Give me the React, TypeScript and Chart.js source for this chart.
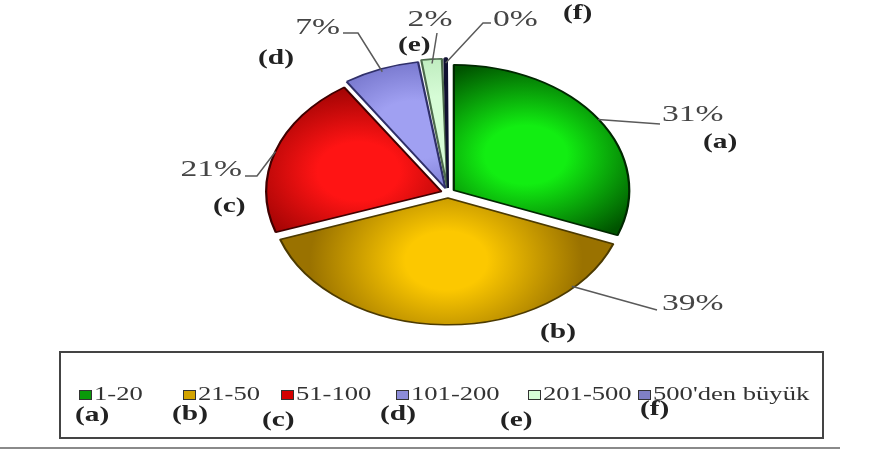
import React, { useEffect, useRef } from 'react';
import { Chart, registerables } from 'chart.js';

Chart.register(...registerables);

// ---- data ----
const categories = ['1-20', '21-50', '51-100', '101-200', '201-500', "500'den büyük"];
const letters = ['(a)', '(b)', '(c)', '(d)', '(e)', '(f)'];
const values = [31, 39, 21, 7, 2, 0.4];

// ---- styles ----
const lightColors = ['#12ee12', '#fcc800', '#ff1414', '#a0a0f2', '#d6fcd6', '#8c8cd6'];
const darkColors = ['#005400', '#9a7200', '#8a0000', '#5c5cb4', '#aee0ae', '#2c2c6a'];
const borderColors = ['#002800', '#4c3a00', '#400000', '#30306a', '#4c6a4c', '#101030'];
const legendColors = ['#0a9a0a', '#d4a400', '#d40000', '#8c8cd8', '#d8fcd8', '#8080c4'];

// ---- layout ----
const SX = 1.4;
const PIE_RADIUS = 125;
const OFFSET = 20;
const anchorFrac = [0.5, 0.17, 0.5, 0.5, 0.5, 0.5];
const pctPos = [
  { x: 662, y: 115, align: 'left' },
  { x: 662, y: 304, align: 'left' },
  { x: 242, y: 170, align: 'right' },
  { x: 340, y: 28, align: 'right' },
  { x: 430, y: 20, align: 'center' },
  { x: 493, y: 20, align: 'left' },
];
const leaderPaths = [
  [[660, 124]],
  [[657, 310]],
  [[257, 176], [245, 176]],
  [[358, 33], [343, 33]],
  [[437, 33]],
  [[483, 23], [491, 23]],
];
const letterPos = [
  { x: 703, y: 143 },
  { x: 540, y: 333 },
  { x: 213, y: 207 },
  { x: 258, y: 59 },
  { x: 398, y: 46 },
  { x: 563, y: 14 },
];
const legendSquareX = [79, 183, 281, 396, 528, 638];
const legendLetterPos = [
  { x: 75, y: 416 },
  { x: 172, y: 415 },
  { x: 262, y: 421 },
  { x: 380, y: 415 },
  { x: 500, y: 421 },
  { x: 640, y: 410 },
];

const SERIF = '"Liberation Serif", "Times New Roman", serif';

function stretchedText(
  ctx: CanvasRenderingContext2D,
  text: string,
  x: number,
  y: number,
  align: CanvasTextAlign,
  font: string,
  color: string
) {
  ctx.save();
  ctx.translate(x, y);
  ctx.scale(SX, 1);
  ctx.font = font;
  ctx.fillStyle = color;
  ctx.textAlign = align;
  ctx.textBaseline = 'middle';
  ctx.fillText(text, 0, 0);
  ctx.restore();
}

const total = values.reduce((a, b) => a + b, 0);

function sliceGradient(c: any) {
  const chart = c.chart;
  const i = c.dataIndex;
  const ca = chart.chartArea;
  if (!ca || i === undefined) return lightColors[i ?? 0];
  const cx = (ca.left + ca.right) / 2;
  const cy = (ca.top + ca.bottom) / 2;
  let cum = 0;
  for (let k = 0; k < i; k++) cum += values[k];
  const start = -Math.PI / 2 + (cum / total) * Math.PI * 2;
  const end = start + (values[i] / total) * Math.PI * 2;
  const mid = (start + end) / 2;
  const gx = cx + Math.cos(mid) * PIE_RADIUS * 0.5;
  const gy = cy + Math.sin(mid) * PIE_RADIUS * 0.5;
  const g = chart.ctx.createRadialGradient(gx, gy, 0, gx, gy, PIE_RADIUS * 0.78);
  g.addColorStop(0, lightColors[i]);
  g.addColorStop(0.3, lightColors[i]);
  g.addColorStop(1, darkColors[i]);
  return g;
}

const stretchPlugin = {
  id: 'stretchPie',
  beforeDatasetsDraw(chart: any) {
    const ca = chart.chartArea;
    const cx = (ca.left + ca.right) / 2;
    const cy = (ca.top + ca.bottom) / 2;
    const ctx = chart.ctx;
    ctx.save();
    ctx.translate(cx, cy);
    ctx.scale(SX, 1);
    ctx.translate(-cx, -cy);
  },
  afterDatasetsDraw(chart: any) {
    chart.ctx.restore();
  },
  afterDraw(chart: any) {
    const ctx: CanvasRenderingContext2D = chart.ctx;
    const meta = chart.getDatasetMeta(0);
    meta.data.forEach((arc: any, i: number) => {
      const p = arc.getProps(['x', 'y', 'startAngle', 'endAngle', 'outerRadius'], true);
      const off = (arc.options.offset || 0) / 4;
      const mid = (p.startAngle + p.endAngle) / 2;
      const a = p.startAngle + anchorFrac[i] * (p.endAngle - p.startAngle);
      const ux = p.x + Math.cos(mid) * off + Math.cos(a) * p.outerRadius;
      const uy = p.y + Math.sin(mid) * off + Math.sin(a) * p.outerRadius;
      const X = p.x + (ux - p.x) * SX;
      ctx.save();
      ctx.strokeStyle = '#5a5a5a';
      ctx.lineWidth = 1.5;
      ctx.beginPath();
      ctx.moveTo(X, uy);
      leaderPaths[i].forEach(([lx, ly]) => ctx.lineTo(lx, ly));
      ctx.stroke();
      ctx.restore();
      const pct = Math.round((values[i] / total) * 100) + '%';
      stretchedText(ctx, pct, pctPos[i].x, pctPos[i].y, pctPos[i].align as CanvasTextAlign, `24px ${SERIF}`, '#454545');
      stretchedText(ctx, letters[i], letterPos[i].x, letterPos[i].y, 'left', `bold 21px ${SERIF}`, '#222');
    });

    ctx.save();
    ctx.strokeStyle = '#444';
    ctx.lineWidth = 2;
    ctx.strokeRect(60, 352, 763, 86);
    ctx.strokeStyle = '#8a8a8a';
    ctx.beginPath();
    ctx.moveTo(0, 448);
    ctx.lineTo(840, 448);
    ctx.stroke();
    ctx.restore();

    categories.forEach((cat, i) => {
      const sx = legendSquareX[i];
      ctx.save();
      ctx.fillStyle = legendColors[i];
      ctx.fillRect(sx, 390, 13, 10);
      ctx.strokeStyle = '#333';
      ctx.lineWidth = 1;
      ctx.strokeRect(sx + 0.5, 390.5, 12, 9);
      ctx.restore();
      stretchedText(ctx, cat, sx + 15, 395, 'left', `19px ${SERIF}`, '#333');
      stretchedText(ctx, letters[i], legendLetterPos[i].x, legendLetterPos[i].y, 'left', `bold 21px ${SERIF}`, '#222');
    });
  },
};

export default function App() {
  const ref = useRef<HTMLCanvasElement | null>(null);
  useEffect(() => {
    if (!ref.current) return;
    const chart = new Chart(ref.current, {
      type: 'pie',
      data: {
        labels: categories,
        datasets: [
          {
            data: values,
            backgroundColor: sliceGradient as any,
            borderColor: borderColors,
            borderWidth: 1.6,
            offset: OFFSET,
            hoverOffset: 0,
            radius: PIE_RADIUS,
          } as any,
        ],
      },
      options: {
        responsive: false,
        animation: false,
        events: [],
        layout: { padding: { left: 20, right: 0, top: 0, bottom: 70 } },
        plugins: {
          legend: { display: false },
          tooltip: { enabled: false },
          title: { display: false },
        },
      },
      plugins: [stretchPlugin as any],
    });
    return () => chart.destroy();
  }, []);
  return (
    <div style={{ position: 'absolute', left: 0, top: 0, width: 876, height: 456, background: '#fff' }}>
      <canvas ref={ref} width={876} height={456} />
    </div>
  );
}
